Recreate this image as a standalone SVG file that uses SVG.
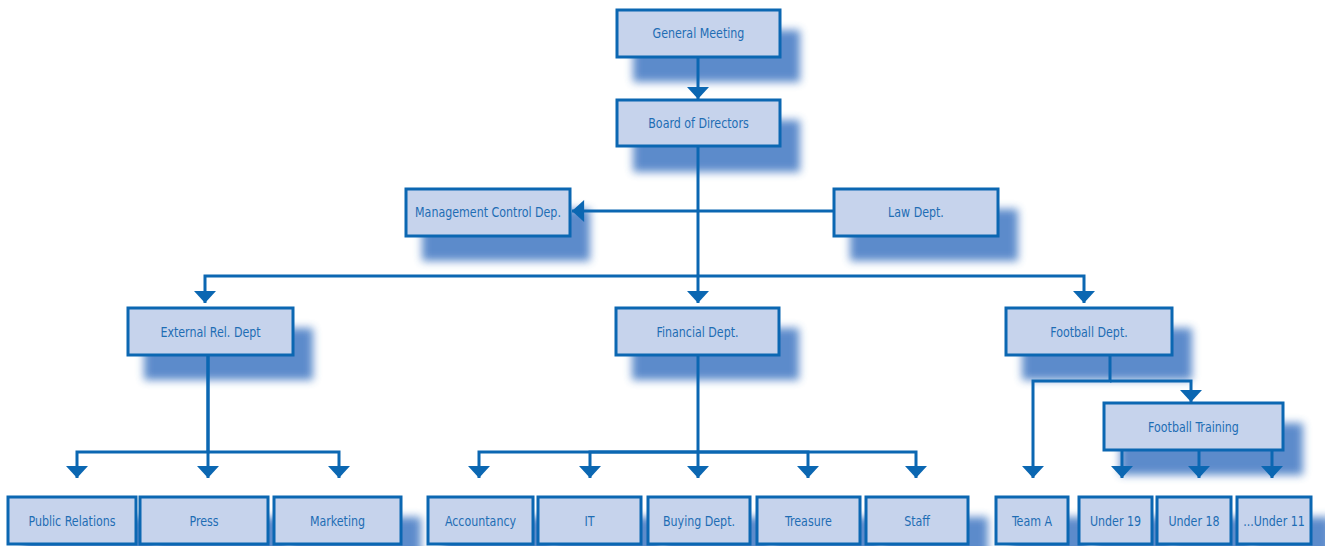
<svg xmlns="http://www.w3.org/2000/svg" width="1325" height="546" viewBox="0 0 1325 546">
<defs>
<filter id="blur" x="-25%" y="-50%" width="150%" height="200%"><feGaussianBlur stdDeviation="4.5"/></filter>
<marker id="arr" markerUnits="userSpaceOnUse" markerWidth="22" markerHeight="22" viewBox="0 -10 11 20" refX="11" refY="0" orient="auto"><path d="M0,-10 L11,0 L0,10 z" fill="#0b67b2"/></marker>
<style>
.sh{fill:#3f77c2;opacity:0.85;filter:url(#blur)}
.box{fill:#c6d3ec;stroke:#0b67b2;stroke-width:3}
.t{font-family:"DejaVu Sans Condensed","Liberation Sans",sans-serif;font-stretch:condensed;font-size:14.5px;fill:#1e6db4;text-anchor:middle;transform-box:fill-box;transform-origin:center;transform:scaleX(0.85)}
.c{fill:none;stroke:#0b67b2;stroke-width:3;marker-end:url(#arr)}
</style>
</defs>
<g id="shadows">
<rect class="sh" x="633" y="30" width="167" height="52"/>
<rect class="sh" x="633" y="120" width="167" height="52"/>
<rect class="sh" x="422" y="209" width="168" height="52"/>
<rect class="sh" x="850" y="209" width="168" height="52"/>
<rect class="sh" x="144" y="328" width="169" height="52"/>
<rect class="sh" x="632" y="328" width="167" height="52"/>
<rect class="sh" x="1022" y="328" width="170" height="52"/>
<rect class="sh" x="1120" y="423" width="183" height="52"/>
<rect class="sh" x="24" y="517" width="132" height="52"/>
<rect class="sh" x="156" y="517" width="132" height="52"/>
<rect class="sh" x="290" y="517" width="131" height="52"/>
<rect class="sh" x="444" y="517" width="109" height="52"/>
<rect class="sh" x="554" y="517" width="107" height="52"/>
<rect class="sh" x="664" y="517" width="106" height="52"/>
<rect class="sh" x="773" y="517" width="107" height="52"/>
<rect class="sh" x="882" y="517" width="106" height="52"/>
<rect class="sh" x="1012" y="517" width="76" height="52"/>
<rect class="sh" x="1095" y="517" width="77" height="52"/>
<rect class="sh" x="1173" y="517" width="78" height="52"/>
<rect class="sh" x="1253" y="517" width="78" height="52"/>
</g>
<g id="connectors">
<path class="c" d="M698,57 V99"/>
<path class="c" d="M698,146 V303"/>
<path class="c" d="M834,211 H572"/>
<path class="c" d="M698,276 H205 V303"/>
<path class="c" d="M698,276 H1084 V303"/>
<path class="c" d="M208,355 V452 H77 V478"/>
<path class="c" d="M208,355 V478"/>
<path class="c" d="M208,452 H339 V478"/>
<path class="c" d="M698,355 V478"/>
<path class="c" d="M698,452 H479 V478"/>
<path class="c" d="M698,452 H590 V478"/>
<path class="c" d="M698,452 H808 V478"/>
<path class="c" d="M698,452 H916 V478"/>
<path class="c" d="M1110,355 V381 H1033 V478"/>
<path class="c" d="M1110,381 H1191 V402"/>
<path class="c" d="M1122,450 V478"/>
<path class="c" d="M1199,450 V478"/>
<path class="c" d="M1272,450 V478"/>
</g>
<g id="general-meeting"><rect class="box" x="617" y="10" width="163" height="47"/><text class="t" x="698.5" y="38">General Meeting</text></g>
<g id="board"><rect class="box" x="617" y="100" width="163" height="46"/><text class="t" x="698.5" y="128">Board of Directors</text></g>
<g id="mgmt"><rect class="box" x="406" y="189" width="164" height="47"/><text class="t" x="488" y="217">Management Control Dep.</text></g>
<g id="law"><rect class="box" x="834" y="189" width="164" height="47"/><text class="t" x="916" y="217">Law Dept.</text></g>
<g id="external"><rect class="box" x="128" y="308" width="165" height="47"/><text class="t" x="210.5" y="337">External Rel. Dept</text></g>
<g id="financial"><rect class="box" x="616" y="308" width="163" height="47"/><text class="t" x="697.5" y="337">Financial Dept.</text></g>
<g id="football"><rect class="box" x="1006" y="308" width="166" height="47"/><text class="t" x="1089" y="337">Football Dept.</text></g>
<g id="training"><rect class="box" x="1104" y="403" width="179" height="47"/><text class="t" x="1193.5" y="432">Football Training</text></g>
<g id="pr"><rect class="box" x="8" y="497" width="128" height="47"/><text class="t" x="72" y="526">Public Relations</text></g>
<g id="press"><rect class="box" x="140" y="497" width="128" height="47"/><text class="t" x="204" y="526">Press</text></g>
<g id="marketing"><rect class="box" x="274" y="497" width="127" height="47"/><text class="t" x="337.5" y="526">Marketing</text></g>
<g id="accountancy"><rect class="box" x="428" y="497" width="105" height="47"/><text class="t" x="480.5" y="526">Accountancy</text></g>
<g id="it"><rect class="box" x="538" y="497" width="103" height="47"/><text class="t" x="589.5" y="526">IT</text></g>
<g id="buying"><rect class="box" x="648" y="497" width="102" height="47"/><text class="t" x="699" y="526">Buying Dept.</text></g>
<g id="treasure"><rect class="box" x="757" y="497" width="103" height="47"/><text class="t" x="808.5" y="526">Treasure</text></g>
<g id="staff"><rect class="box" x="866" y="497" width="102" height="47"/><text class="t" x="917" y="526">Staff</text></g>
<g id="team-a"><rect class="box" x="996" y="497" width="72" height="47"/><text class="t" x="1032" y="526">Team A</text></g>
<g id="u19"><rect class="box" x="1079" y="497" width="73" height="47"/><text class="t" x="1115.5" y="526">Under 19</text></g>
<g id="u18"><rect class="box" x="1157" y="497" width="74" height="47"/><text class="t" x="1194" y="526">Under 18</text></g>
<g id="u11"><rect class="box" x="1237" y="497" width="74" height="47"/><text class="t" x="1274" y="526">...Under 11</text></g>
</svg>
